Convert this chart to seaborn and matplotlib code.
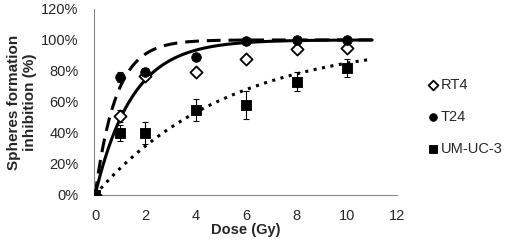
# Spheres formation inhibition vs dose

import numpy as np
import pandas as pd
import matplotlib
matplotlib.use('Agg')
import matplotlib.pyplot as plt
import seaborn as sns

# data
dose = [0, 1, 2, 4, 6, 8, 10]
rt4 = [0, 51, 77, 79, 88, 94, 95]
rt4_err = [0, 4, 3, 0, 0, 0, 2]
t24 = [0, 76, 79, 89, 99.5, 100, 100]
t24_err = [0, 3, 3, 0, 0, 0, 0]
umuc3 = [0, 40, 40, 55, 58, 73, 82]
umuc3_err = [0, 5, 7, 7, 9, 6, 6]

# exponential trend lines y = 100*(1-exp(-k*x)), k
k_rt4 = 0.68
k_t24 = 1.2
k_umuc3 = 0.19

sns.set_style('white')
plt.rcParams['font.family'] = ['Liberation Sans', 'DejaVu Sans']

fig = plt.figure(figsize=(5.1, 2.41), dpi=100)
ax = fig.add_axes([0.184, 0.191, 0.595, 0.772])

xs = np.linspace(0, 11, 200)
curves = pd.DataFrame({
    'x': np.concatenate([xs, xs, xs]),
    'y': np.concatenate([100 * (1 - np.exp(-k_rt4 * xs)),
                         100 * (1 - np.exp(-k_t24 * xs)),
                         100 * (1 - np.exp(-k_umuc3 * xs))]),
    'fit': ['RT4'] * len(xs) + ['T24'] * len(xs) + ['UM-UC-3'] * len(xs),
})
sns.lineplot(data=curves[curves.fit == 'RT4'], x='x', y='y', color='black', lw=2.2, ax=ax, legend=False)
sns.lineplot(data=curves[curves.fit == 'T24'], x='x', y='y', color='black', lw=2.2, ax=ax, legend=False).lines[-1].set_dashes([4.5, 2.6])
sns.lineplot(data=curves[curves.fit == 'UM-UC-3'], x='x', y='y', color='black', lw=2.2, ax=ax, legend=False).lines[-1].set_dashes([1, 1.8])

# error bars
ax.errorbar(dose, rt4, yerr=rt4_err, fmt='none', ecolor='black', elinewidth=0.8, capsize=2.5, capthick=0.8)
ax.errorbar(dose, t24, yerr=t24_err, fmt='none', ecolor='black', elinewidth=0.8, capsize=2.5, capthick=0.8)
ax.errorbar(dose, umuc3, yerr=umuc3_err, fmt='none', ecolor='black', elinewidth=0.8, capsize=2.5, capthick=0.8)

# markers
sns.scatterplot(x=dose, y=rt4, marker='D', s=38, facecolor='white', edgecolor='black', linewidth=1.3, ax=ax, label='RT4', zorder=5)
sns.scatterplot(x=dose, y=t24, marker='o', s=48, color='black', edgecolor='black', ax=ax, label='T24', zorder=5)
sns.scatterplot(x=dose, y=umuc3, marker='s', s=62, color='black', edgecolor='black', ax=ax, label='UM-UC-3', zorder=5)

ax.set_xlim(-0.05, 12)
ax.set_ylim(0, 120)
ax.set_xticks([0, 2, 4, 6, 8, 10, 12])
ax.set_yticks([0, 20, 40, 60, 80, 100, 120])
ax.set_yticklabels([f'{v}%' for v in [0, 20, 40, 60, 80, 100, 120]])
ax.tick_params(axis='both', labelsize=10.5, length=4, width=0.8, color='#888888', direction='out')
ax.tick_params(axis='y', pad=7)
ax.tick_params(axis='x', pad=6)
for s in ['top', 'right']:
    ax.spines[s].set_visible(False)
for s in ['left', 'bottom']:
    ax.spines[s].set_color('#888888')
    ax.spines[s].set_linewidth(0.8)

ax.set_xlabel('Dose (Gy)', fontsize=10.5, fontweight='bold', labelpad=0)
ax.set_ylabel('Spheres formation\ninhibition (%)', fontsize=11, fontweight='bold', labelpad=3)

leg = ax.legend(loc='center left', bbox_to_anchor=(1.1, 0.42), frameon=False, fontsize=10.5,
                handletextpad=0.1, handlelength=0.8, labelspacing=1.25, borderaxespad=0,
                borderpad=0, markerscale=0.8)

fig.savefig('out.png', dpi=100)
